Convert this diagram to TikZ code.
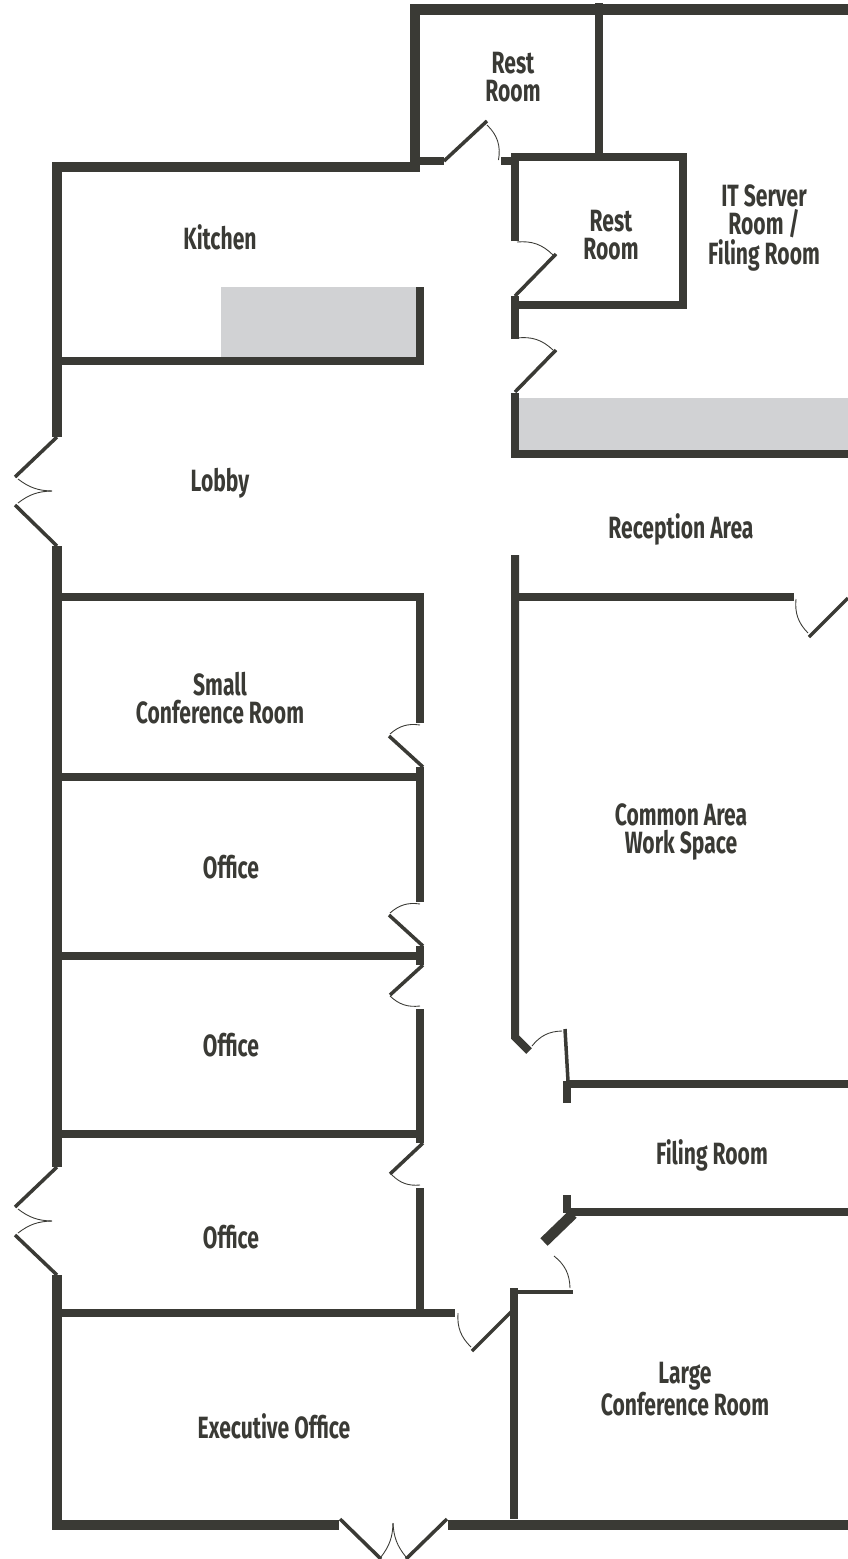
\documentclass[tikz,border=0pt]{standalone}
\usepackage{fontspec}
\usepackage{xcolor}
\newfontfamily\roomfont[FakeStretch=0.686]{Fira Sans}
\definecolor{wallc}{HTML}{3A3A35}
\definecolor{counterc}{HTML}{D1D2D4}

\begin{document}
\begin{tikzpicture}[x=0.02cm, y=-0.02cm]
    \tikzstyle{wall} = [draw=wallc, line width=8*0.02cm, line cap=butt, line join=miter]
    \tikzstyle{heavy} = [draw=wallc, line width=10.5*0.02cm, line cap=butt, line join=miter]
    \tikzstyle{leaf} = [draw=wallc, line width=3.5*0.02cm, line cap=butt]
    \tikzstyle{swing} = [draw=wallc, line width=0.5pt]
    \tikzstyle{counter} = [fill=counterc]
    \tikzstyle{roomname} = [text=wallc, align=center, inner sep=0pt,
	font=\roomfont\bfseries\fontsize{17.5}{15.9}\selectfont]

	\useasboundingbox (0,0) rectangle (848,1559);

	% counters
	\fill[counter] (221,287) rectangle (416,357);
	\fill[counter] (519,398) rectangle (848,450);

	% outer walls
	\draw[heavy] (848,9.5) -- (415,9.5) -- (415,167) -- (57,167) -- (57,437);
	\draw[heavy] (57,546) -- (57,1167);
	\draw[heavy] (57,1275) -- (57,1525) -- (339,1525);
	\draw[heavy] (448,1525) -- (848,1525);

	% inner walls
	\draw[wall] (415,161) -- (444,161);
	\draw[wall] (501,161) -- (515,161);
	\draw[wall] (515,241) -- (515,157) -- (683,157) -- (683,305) -- (515,305);
	\draw[wall] (599,3) -- (599,157);
	\draw[wall] (515,296) -- (515,339);
	\draw[wall] (515,393) -- (515,454) -- (848,454);
	\draw[wall] (57,361) -- (420,361) -- (420,287);
	\draw[wall] (57,597) -- (420,597) -- (420,723);
	\draw[wall] (57,777) -- (424,777);
	\draw[wall] (420,767) -- (420,902);
	\draw[wall] (57,956) -- (424,956);
	\draw[wall] (420,946) -- (420,965);
	\draw[wall] (420,1009) -- (420,1143);
	\draw[wall] (57,1134) -- (424,1134);
	\draw[wall] (420,1188) -- (420,1313);
	\draw[wall] (57,1313) -- (455,1313);
	\draw[wall] (794,597) -- (515,597);
	\draw[wall] (515,555) -- (515,1037) -- (529,1051);
	\draw[wall] (567,1103) -- (567,1081);
	\draw[wall] (567,1084) -- (848,1084);
	\draw[wall] (567,1195) -- (567,1213);
	\draw[wall] (848,1212) -- (570,1212);
	\draw[heavy] (544,1242) -- (573,1214);
	\draw[wall] (513.5,1288) -- (513.5,1519);
	\draw[leaf, line width=4*0.02cm] (513,1292) -- (573,1292);

	% door leaves
	\draw[leaf] (444,161) -- (487,121);
	\draw[leaf] (515,296) -- (556,254);
	\draw[leaf] (515,392) -- (556,350);
	\draw[leaf] (57,437) -- (15,477);
	\draw[leaf] (15,505) -- (57,546);
	\draw[leaf] (809,637) -- (848,598);
	\draw[leaf] (423,767) -- (389,736);
	\draw[leaf] (423,946) -- (389,915);
	\draw[leaf] (423,965) -- (390,995);
	\draw[leaf] (423,1143) -- (390,1174);
	\draw[leaf] (57,1167) -- (15,1207);
	\draw[leaf] (15,1235) -- (57,1275);
	\draw[leaf] (565,1029) -- (568,1081);
	\draw[leaf] (472,1351) -- (513,1310);
	\draw[leaf] (340,1519) -- (381,1559);
	\draw[leaf] (447,1519) -- (406,1559);

	% door swings
	\draw[swing] (487,125) to[bend left=28] (498.5,160);
	\draw[swing] (517,242) to[bend left=25] (553,255);
	\draw[swing] (517,338) to[bend left=25] (553,350);
	\draw[swing] (18,479) to[bend right=18] (52,491);
	\draw[swing] (18,503) to[bend left=18] (52,491);
	\draw[swing] (18,1209) to[bend right=18] (52,1221);
	\draw[swing] (18,1233) to[bend left=18] (52,1221);
	\draw[swing] (796,599) to[bend right=25] (808,633);
	\draw[swing] (420,725) to[bend right=25] (390,734);
	\draw[swing] (420,904) to[bend right=25] (390,913);
	\draw[swing] (390,996) to[bend right=25] (420,1006);
	\draw[swing] (392,1175) to[bend right=25] (420,1185);
	\draw[swing] (562,1031) to[bend right=25] (532,1046);
	\draw[swing] (458,1313) to[bend right=25] (471,1347);
	\draw[swing] (570,1288) to[bend right=25] (554,1256);
	\draw[swing] (393,1523) to[bend left=18] (381,1557);
	\draw[swing] (393,1523) to[bend right=18] (406,1557);

	\path
		node[roomname] (restA) at (513,77) {Rest\\Room}
		node[roomname] (restB) at (611,235) {Rest\\Room}
		node[roomname] (server) at (764,228) {IT Server\\Room /\\Filing Room}
		node[roomname] (kitchen) at (220,237) {Kitchen}
		node[roomname] (lobby) at (220,483) {Lobby}
		node[roomname] (reception) at (681,529) {Reception Area}
		node[roomname] (small) at (220,698) {Small\\Conference Room}
		node[roomname] (officeA) at (231,867) {Office}
		node[roomname] (officeB) at (231,1045) {Office}
		node[roomname] (officeC) at (231,1237) {Office}
		node[roomname] (common) at (681,832) {Common Area\\Work Space}
		node[roomname] (filing) at (712,1155) {Filing Room}
		node[roomname] (large) at (685,1389) {Large\\Conference Room}
		node[roomname] (exec) at (274,1426) {Executive Office}
	;
\end{tikzpicture}
\end{document}
